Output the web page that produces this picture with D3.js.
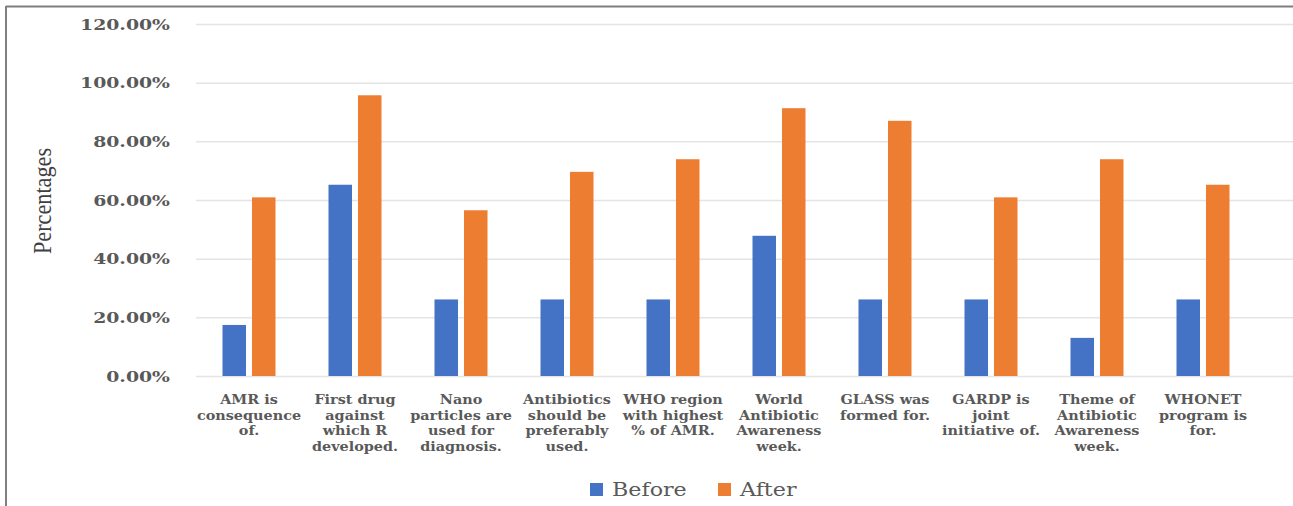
<!DOCTYPE html>
<html><head><meta charset="utf-8">
<script src="https://cdn.jsdelivr.net/npm/d3@7/dist/d3.min.js"></script>
<style>html,body{margin:0;padding:0;background:#fff;}svg{display:block;}</style>
</head><body><svg id="c" width="1293" height="506"></svg>
<script>
const categories = ["AMR is consequence of.","First drug against which R developed.","Nano particles are used for diagnosis.","Antibiotics should be preferably used.","WHO region with highest % of AMR.","World Antibiotic Awareness week.","GLASS was formed for.","GARDP is joint initiative of.","Theme of Antibiotic Awareness week.","WHONET program is for."];
const categoryLines = [["AMR is","consequence","of."],["First drug","against","which R","developed."],["Nano","particles are","used for","diagnosis."],["Antibiotics","should be","preferably","used."],["WHO region","with highest","% of AMR."],["World","Antibiotic","Awareness","week."],["GLASS was","formed for."],["GARDP is","joint","initiative of."],["Theme of","Antibiotic","Awareness","week."],["WHONET","program is","for."]];
const seriesNames = ["Before","After"];
const before = [0.174,0.652,0.261,0.261,0.261,0.478,0.261,0.261,0.130,0.261];
const after  = [0.609,0.957,0.565,0.696,0.739,0.913,0.870,0.609,0.739,0.652];
const yTicks = [0,0.2,0.4,0.6,0.8,1.0,1.2];
const colors = ["#4472C4","#ED7D31"];

const svg = d3.select("#c");
const W = 1293, H = 506;
const x0 = d3.scaleBand().domain(categories).range([196,1256]).paddingInner(0.5).paddingOuter(0.25);
const x1 = d3.scaleBand().domain(seriesNames).range([0,x0.bandwidth()]).paddingInner(0.203);
const y = d3.scaleLinear().domain([0,1.2]).range([376,24]);

// frame
svg.append("line").attr("x1",6).attr("x2",W).attr("y1",6.5).attr("y2",6.5).attr("stroke","#7f7f7f").attr("stroke-width",2);
svg.append("line").attr("x1",6).attr("x2",6).attr("y1",6).attr("y2",H).attr("stroke","#7f7f7f").attr("stroke-width",2);

// gridlines
const yAxis = d3.axisLeft(y).tickValues(yTicks).tickSize(-(W-196)).tickFormat(d3.format(".2%"));
const ga = svg.append("g").attr("transform","translate(196,0)").call(yAxis);
ga.select(".domain").remove();
ga.selectAll(".tick line").attr("stroke","#e4e4e4").attr("stroke-width",1.5);
ga.selectAll(".tick text").each(function(){
  const t = d3.select(this);
  t.attr("x",null).attr("dy",null).attr("text-anchor","end").attr("dominant-baseline","central")
   .attr("transform","translate(-26,0) scale(1.3,1)")
   .attr("font-family","DejaVu Serif").attr("font-weight","bold").attr("font-size",14.5).attr("fill","#595959");
});

// bars
const data = categories.map((c,i)=>({c, vals:[before[i],after[i]]}));
const g = svg.append("g");
g.selectAll("g.grp").data(data).join("g").attr("class","grp")
 .attr("transform",d=>`translate(${x0(d.c)},0)`)
 .selectAll("rect").data(d=>d.vals.map((v,j)=>({s:seriesNames[j],v,j})))
 .join("rect")
 .attr("x",d=>x1(d.s)).attr("width",x1.bandwidth())
 .attr("y",d=>y(d.v)).attr("height",d=>y(0)-y(d.v))
 .attr("fill",d=>colors[d.j]);

// x labels
const xl = svg.append("g");
categories.forEach((c,i)=>{
  const cx = x0(c)+x0.bandwidth()/2;
  const t = xl.append("text").attr("transform",`translate(${cx},404) scale(1.2,1)`)
    .attr("text-anchor","middle").attr("font-family","DejaVu Serif").attr("font-weight","bold")
    .attr("font-size",12).attr("fill","#595959");
  categoryLines[i].forEach((ln,k)=>{
    t.append("tspan").attr("x",0).attr("y",k*15.6).text(ln);
  });
});

// y title
svg.append("text").attr("transform","translate(51,201) rotate(-90) scale(0.89,1)").attr("text-anchor","middle")
  .attr("font-family","Liberation Serif").attr("font-size",25).attr("fill","#404040").text("Percentages");

// legend
const legendX = [590,718];
seriesNames.forEach((s,i)=>{
  svg.append("rect").attr("x",legendX[i]).attr("y",483).attr("width",13).attr("height",13).attr("fill",colors[i]);
  svg.append("text").attr("transform",`translate(${legendX[i]+22},496) scale(1.2,1)`)
    .attr("font-family","DejaVu Serif").attr("font-size",18.5).attr("fill","#595959").text(s);
});
</script></body></html>
